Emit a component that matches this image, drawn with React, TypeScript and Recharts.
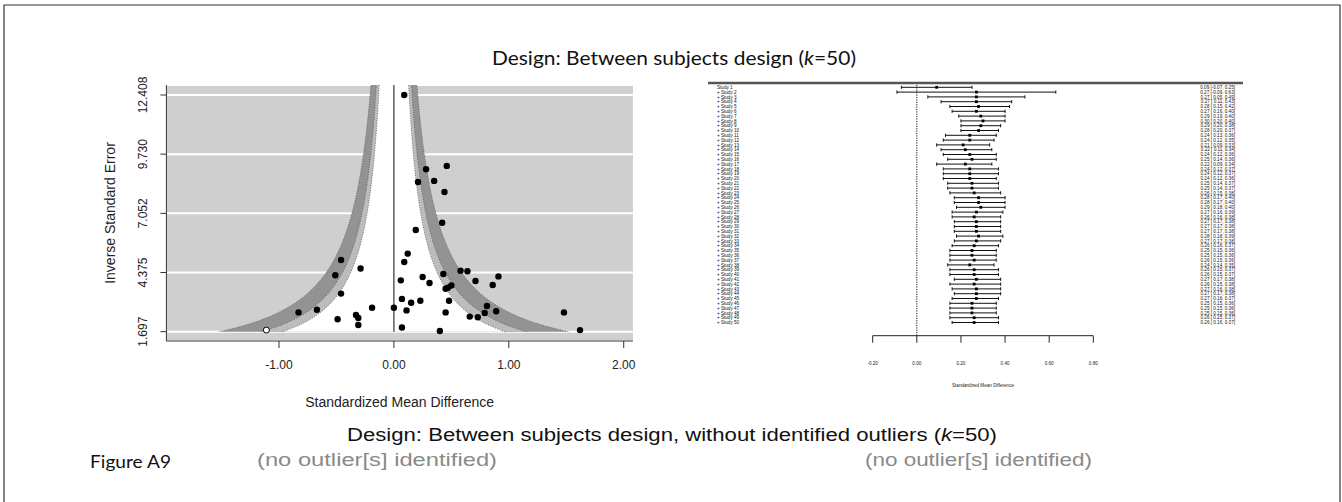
import React from "react"
import {
  ComposedChart,
  Area,
  Scatter,
  XAxis,
  YAxis,
  CartesianGrid,
  ReferenceLine,
  ErrorBar,
} from "recharts"

// ---- funnel plot (left panel) ----
const smd = [
  0.09, 0.46, 0.28, 0.21, 0.35, 0.44, 0.42, 0.19, 0.12, 0.09, -0.46, -0.29,
  -0.51, 0.58, 0.64, 0.43, 0.91, 0.06, 0.25, 0.31, 0.71, 0.86, 0.5, 0.47,
  0.45, -0.46, 0.07, 0.23, 0.15, 0.48, -0.19, 0.0, 0.11, -0.67, -0.83, 0.45,
  0.81, 0.79, 0.89, 1.48, 0.66, 0.73, -0.33, -0.31, -0.49, -0.31, 0.07, 0.4,
  1.62,
]
const precision = [
  12.41, 9.2, 9.05, 8.47, 8.52, 8.02, 6.63, 6.3, 5.23, 4.85, 4.94, 4.56, 4.25,
  4.46, 4.43, 4.31, 4.2, 4.02, 4.17, 3.9, 3.99, 3.81, 3.79, 3.69, 3.64, 3.42,
  3.18, 3.1, 3.01, 3.1, 2.78, 2.78, 2.66, 2.69, 2.57, 2.57, 2.86, 2.54, 2.62,
  2.57, 2.38, 2.35, 2.45, 2.32, 2.26, 2.0, 1.89, 1.73, 1.77,
]
// trim-and-fill imputed study (open circle)
const filledSmd = [-1.11]
const filledPrecision = [1.77]

const precisionTicks = [1.697, 4.375, 7.052, 9.73, 12.408]
const smdTicks = [-1, 0, 1, 2]
// contour levels 99% / 95% / 90%
const contourZ = [2.576, 1.96, 1.645]
const contourFill = ["#939393", "#bcbcbc", "#ffffff"]

// ---- cumulative forest plot (right panel) ----
const cumEstimate = [
  0.09, 0.27, 0.27, 0.27, 0.28, 0.27, 0.29, 0.3, 0.29, 0.28, 0.24, 0.24, 0.21,
  0.22, 0.24, 0.25, 0.22, 0.24, 0.24, 0.24, 0.25, 0.25, 0.26, 0.28, 0.28, 0.29,
  0.27, 0.26, 0.27, 0.27, 0.27, 0.28, 0.27, 0.26, 0.25, 0.25, 0.26, 0.24, 0.26,
  0.26, 0.27, 0.26, 0.27, 0.27, 0.27, 0.25, 0.25, 0.25, 0.26, 0.26,
]
const cumLower = [
  -0.07, -0.09, 0.05, 0.11, 0.15, 0.16, 0.19, 0.2, 0.2, 0.2, 0.13, 0.12, 0.09,
  0.11, 0.12, 0.14, 0.09, 0.12, 0.12, 0.12, 0.14, 0.14, 0.15, 0.17, 0.17, 0.18,
  0.16, 0.16, 0.17, 0.17, 0.17, 0.18, 0.17, 0.16, 0.15, 0.15, 0.15, 0.14, 0.15,
  0.15, 0.17, 0.15, 0.16, 0.17, 0.16, 0.15, 0.15, 0.15, 0.15, 0.16,
]
const cumUpper = [
  0.25, 0.63, 0.49, 0.43, 0.42, 0.4, 0.4, 0.4, 0.38, 0.37, 0.36, 0.35, 0.33,
  0.34, 0.36, 0.36, 0.34, 0.37, 0.37, 0.36, 0.37, 0.37, 0.38, 0.4, 0.4, 0.4,
  0.39, 0.38, 0.38, 0.38, 0.38, 0.39, 0.38, 0.37, 0.36, 0.36, 0.36, 0.35, 0.37,
  0.37, 0.38, 0.38, 0.38, 0.38, 0.37, 0.36, 0.36, 0.36, 0.37, 0.37,
]
const forestTicks = [-0.2, 0, 0.2, 0.4, 0.6, 0.8]

const sans = "'Liberation Sans', Arial, sans-serif"
const humanist = "Lato, 'Open Sans', sans-serif"

const funnelPoints = smd.map((d, i) => ({ d, prec: precision[i] }))
const filledPoints = filledSmd.map((d, i) => ({ d, prec: filledPrecision[i] }))

// contour bands: +/- z * SE, SE = 1 / precision (drawn the way metafor does)
const precLow = precisionTicks[0]
const precHigh = 12.86
const contour = Array.from({ length: 161 }, (_, i) => {
  const p = precLow + ((precHigh - precLow) * i) / 160
  const row: Record<string, number | number[]> = { prec: p }
  contourZ.forEach((z, k) => {
    row[`b${k}`] = [-z / p, z / p]
  })
  return row
})

const forestRows = cumEstimate.map((est, i) => ({
  row: i + 1,
  est,
  lo: cumLower[i],
  hi: cumUpper[i],
  ci: [est - cumLower[i], cumUpper[i] - est],
}))

const fmt = (v: number) => (v < 0 ? v.toFixed(2) : " " + v.toFixed(2))

function PrecisionTick(props: any) {
  const { x, y, payload } = props
  return (
    <text
      x={x}
      y={y}
      transform={`rotate(-90, ${x}, ${y})`}
      textAnchor="middle"
      fill="#222"
      fontSize={12}
      fontFamily={sans}
    >
      {Number(payload.value).toFixed(3)}
    </text>
  )
}

function StudyTick(props: any) {
  const { y, payload } = props
  const r = forestRows[payload.value - 1]
  if (!r) return null
  const label = r.row === 1 ? "Study 1" : `+ Study ${r.row}`
  return (
    <g fontFamily={sans} fontSize={4.6} fill="#111">
      <text x={17} y={y} dy="0.35em" textAnchor="start">
        {label}
      </text>
      <text x={535} y={y} dy="0.35em" textAnchor="end">
        {`${r.est.toFixed(2)} [${fmt(r.lo)}, ${r.hi.toFixed(2)}]`}
      </text>
    </g>
  )
}

export default function App() {
  return (
    <div
      style={{
        position: "absolute",
        left: 0,
        top: 0,
        width: 1342,
        height: 502,
        background: "#fff",
        overflow: "hidden",
      }}
    >
      <ComposedChart
        layout="vertical"
        width={700}
        height={420}
        margin={{ top: 85, right: 67.1, bottom: 49, left: 136.4 }}
        style={{ position: "absolute", left: 0, top: 0 }}
      >
        <CartesianGrid
          vertical={false}
          stroke="#ffffff"
          strokeWidth={2}
          fill="#cfcfcf"
          fillOpacity={1}
        />
        <XAxis
          type="number"
          domain={[-1.98, 2.08]}
          ticks={smdTicks}
          allowDataOverflow
          tickFormatter={(v: number) => v.toFixed(2)}
          tickSize={7}
          tickMargin={12}
          height={30}
          stroke="#333"
          tick={{ fill: "#222", fontSize: 12, fontFamily: sans }}
        />
        <YAxis
          type="number"
          dataKey="prec"
          domain={[1.276, precHigh]}
          ticks={precisionTicks}
          reversed
          allowDataOverflow
          width={30}
          tickSize={6}
          tickMargin={13.4}
          stroke="#333"
          tick={(p: any) => <PrecisionTick {...p} />}
        />
        {contourZ.map((z, k) => (
          <Area
            key={z}
            data={contour}
            dataKey={`b${k}`}
            type="linear"
            fill={contourFill[k]}
            fillOpacity={1}
            stroke="#555"
            strokeWidth={0.8}
            strokeDasharray="1 1.5"
            dot={false}
            activeDot={false}
            isAnimationActive={false}
          />
        ))}
        <ReferenceLine
          segment={[
            { x: 0, y: precLow },
            { x: 0, y: precHigh },
          ]}
          stroke="#333"
          strokeWidth={1.2}
        />
        <Scatter
          data={funnelPoints}
          dataKey="d"
          isAnimationActive={false}
          shape={(p: any) => <circle cx={p.cx} cy={p.cy} r={3.2} fill="#000" />}
        />
        <Scatter
          data={filledPoints}
          dataKey="d"
          isAnimationActive={false}
          shape={(p: any) => (
            <circle cx={p.cx} cy={p.cy} r={3} fill="#fff" stroke="#000" strokeWidth={1} />
          )}
        />
      </ComposedChart>

      <ComposedChart
        width={640}
        height={330}
        margin={{ top: 13, right: 246.7, bottom: 24.3, left: 0 }}
        style={{ position: "absolute", left: 700, top: 70 }}
      >
        <XAxis
          type="number"
          dataKey="est"
          domain={[-0.2, 0.8]}
          ticks={forestTicks}
          allowDataOverflow
          tickFormatter={(v: number) => v.toFixed(2)}
          tickSize={7}
          tickMargin={19}
          height={40}
          stroke="#222"
          tick={{ fill: "#222", fontSize: 4.6, fontFamily: sans }}
        />
        <YAxis
          type="number"
          dataKey="row"
          reversed
          domain={[0.104, 52.75]}
          ticks={forestRows.map((r) => r.row)}
          interval={0}
          allowDataOverflow
          width={172.7}
          axisLine={false}
          tickLine={false}
          tick={(p: any) => <StudyTick {...p} />}
        />
        <ReferenceLine x={0} stroke="#111" strokeDasharray="1.2 1.2" />
        <Scatter
          data={forestRows}
          isAnimationActive={false}
          shape={(p: any) => (
            <rect x={p.cx - 1.4} y={p.cy - 1.4} width={2.8} height={2.8} fill="#000" />
          )}
        >
          <ErrorBar dataKey="ci" direction="x" width={1.6} stroke="#111" strokeWidth={1} />
        </Scatter>
      </ComposedChart>

      <svg
        width={1342}
        height={502}
        style={{ position: "absolute", left: 0, top: 0, pointerEvents: "none" }}
      >
        <path d="M4 520 V5 H1340 V520" fill="none" stroke="#333" strokeWidth={1.2} />
        <line x1={708} y1={83} x2={1243} y2={83} stroke="#555" strokeWidth={2.4} />

        <text
          x={674}
          y={65}
          textAnchor="middle"
          fontFamily={humanist}
          fontSize={19}
          fill="#111"
          textLength={364}
          lengthAdjust="spacingAndGlyphs"
        >
          Design: Between subjects design (<tspan fontStyle="italic">k</tspan>=50)
        </text>

        <text
          x={110}
          y={213}
          transform="rotate(-90, 110, 213)"
          textAnchor="middle"
          dominantBaseline="central"
          fontFamily={sans}
          fontSize={14}
          fill="#222"
        >
          Inverse Standard Error
        </text>
        <text x={399.6} y={406.5} textAnchor="middle" fontFamily={sans} fontSize={14} fill="#222">
          Standardized Mean Difference
        </text>
        <text x={983} y={387} textAnchor="middle" fontFamily={sans} fontSize={4.6} fill="#222">
          Standardized Mean Difference
        </text>

        <text
          x={347}
          y={441}
          fontFamily={sans}
          fontSize={17.5}
          fill="#111"
          textLength={650}
          lengthAdjust="spacingAndGlyphs"
        >
          Design: Between subjects design, without identified outliers (
          <tspan fontStyle="italic">k</tspan>=50)
        </text>

        <text
          x={90}
          y={468}
          fontFamily={humanist}
          fontSize={17.5}
          fill="#111"
          textLength={81}
          lengthAdjust="spacingAndGlyphs"
        >
          Figure A9
        </text>
        <text
          x={257}
          y={466}
          fontFamily={sans}
          fontSize={18}
          fill="#8a8a8a"
          textLength={240}
          lengthAdjust="spacingAndGlyphs"
        >
          (no outlier[s] identified)
        </text>
        <text
          x={865}
          y={466}
          fontFamily={sans}
          fontSize={18}
          fill="#8a8a8a"
          textLength={227}
          lengthAdjust="spacingAndGlyphs"
        >
          (no outlier[s] identified)
        </text>
      </svg>
    </div>
  )
}
